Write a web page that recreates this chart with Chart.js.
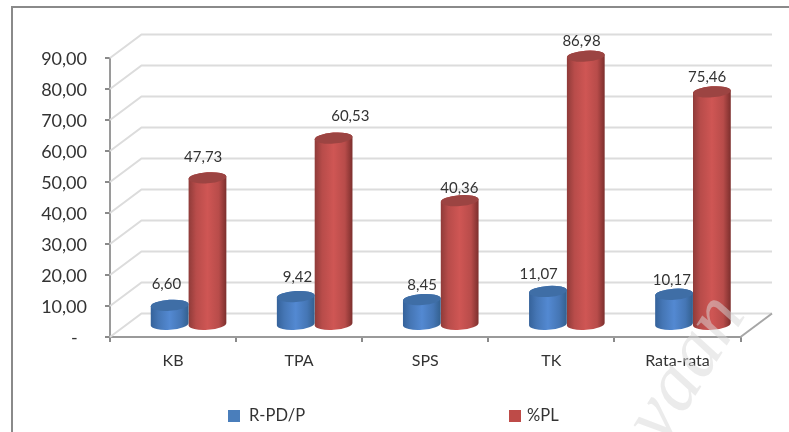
<!DOCTYPE html>
<html>
<head>
<meta charset="utf-8">
<script src="https://cdn.jsdelivr.net/npm/chart.js@4/dist/chart.umd.min.js"></script>
<style>html,body{margin:0;padding:0;background:#fff}canvas{display:block}</style>
</head>
<body>
<canvas id="c" width="789" height="432"></canvas>
<script>
const categories = ["KB", "TPA", "SPS", "TK", "Rata-rata"];
const seriesNames = ["R-PD/P", "%PL"];
const rpdp = [6.60, 9.42, 8.45, 11.07, 10.17];
const pl = [47.73, 60.53, 40.36, 86.98, 75.46];
const legendColors = ["#4a7ebb", "#be4b48"];
const shades = [
  {edgeL:"#35629a", soft:"#4576b5", mid:"#5389d2", edgeR:"#33608f", cap:"#3f6ea6"},
  {edgeL:"#8f3b39", soft:"#b84c4a", mid:"#cf5654", edgeR:"#7c2f2d", cap:"#9c4442"}
];
const depthX = 31.5, depthY = 23.5;
const barShiftX = 15.5;
const capRy = 5.5;
const labelNudge = [
  [[-3.5,-21],[1.5,-19],[0,-14],[-9.5,-17],[-2.5,-14]],
  [[-4.5,-20],[16.5,-21],[-0.5,-12],[-4.5,-14.5],[-5,-14.5]]
];
const fmt = v => v.toFixed(2).replace(".", ",");
const textColor = "#333333";
const fontFamily = "Lato, 'Open Sans', sans-serif";

const scene = {
  id: "scene",
  beforeDatasetsDraw(chart) {
    const {ctx, scales:{x, y}, chartArea:a} = chart;
    ctx.save();
    ctx.strokeStyle = "#8a8a8a"; ctx.lineWidth = 2;
    ctx.beginPath(); ctx.moveTo(12, 432); ctx.lineTo(12, 7); ctx.lineTo(789, 7); ctx.stroke();
    ctx.strokeStyle = "#dcdcdc"; ctx.lineWidth = 2;
    y.ticks.forEach(t => {
      const py = y.getPixelForValue(t.value);
      ctx.beginPath();
      ctx.moveTo(a.left, py);
      ctx.lineTo(a.left + depthX, py - depthY);
      ctx.lineTo(a.right + depthX, py - depthY);
      ctx.stroke();
    });
    ctx.strokeStyle = "#a6a6a6"; ctx.lineWidth = 2;
    ctx.beginPath();
    ctx.moveTo(a.right, a.bottom);
    ctx.lineTo(a.right + depthX, a.bottom - depthY);
    ctx.stroke();
    ctx.restore();
  },
  beforeDatasetDraw(chart, args) {
    const {ctx} = chart;
    const meta = chart.getDatasetMeta(args.index);
    const s = shades[args.index];
    meta.data.forEach(el => {
      const p = el.getProps(["x","y","base","width"], true);
      const cx = p.x + barShiftX, rx = p.width/2;
      const top = p.y - depthY/2 + 0.5, bot = p.base - depthY/2;
      const tilt = -0.07;
      const g = ctx.createLinearGradient(cx-rx, 0, cx+rx, 0);
      g.addColorStop(0, s.edgeL);
      g.addColorStop(0.2, s.soft);
      g.addColorStop(0.5, s.mid);
      g.addColorStop(0.8, s.soft);
      g.addColorStop(1, s.edgeR);
      ctx.save();
      ctx.fillStyle = g;
      ctx.beginPath();
      ctx.ellipse(cx, bot, rx, capRy, tilt, Math.PI, 0, true);
      ctx.lineTo(cx+rx, top);
      ctx.ellipse(cx, top, rx, capRy, tilt, 0, Math.PI, true);
      ctx.closePath();
      ctx.fill();
      ctx.fillStyle = s.cap;
      ctx.beginPath();
      ctx.ellipse(cx, top, rx, capRy, tilt, 0, Math.PI*2);
      ctx.fill();
      ctx.restore();
    });
    return false;
  },
  afterDatasetsDraw(chart) {
    const {ctx} = chart;
    ctx.save();
    ctx.fillStyle = textColor;
    ctx.font = "15px " + fontFamily;
    ctx.textAlign = "center"; ctx.textBaseline = "middle";
    chart.data.datasets.forEach((ds, di) => {
      chart.getDatasetMeta(di).data.forEach((el, i) => {
        const p = el.getProps(["x","y"], true);
        const n = labelNudge[di][i];
        ctx.fillText(fmt(ds.data[i]), p.x + depthX/2 + n[0], p.y - depthY/2 + n[1]);
      });
    });
    const swatchX = [228, 509], textX = [249, 527];
    ctx.textAlign = "left";
    ctx.font = "16.5px " + fontFamily;
    chart.data.datasets.forEach((ds, di) => {
      ctx.fillStyle = legendColors[di];
      ctx.fillRect(swatchX[di], 410, 12, 12);
      ctx.fillStyle = textColor;
      ctx.fillText(ds.label, textX[di], 416);
    });
    ctx.translate(664, 446);
    ctx.rotate(-58 * Math.PI/180);
    ctx.font = "italic 80px 'Liberation Serif', serif";
    ctx.fillStyle = "rgba(215,215,215,0.5)";
    ctx.textAlign = "left";
    ctx.textBaseline = "alphabetic";
    ctx.fillText("vaan", 0, 0);
    ctx.restore();
  }
};

new Chart(document.getElementById("c"), {
  type: "bar",
  data: {
    labels: categories,
    datasets: [
      {label: seriesNames[0], data: rpdp, backgroundColor: legendColors[0]},
      {label: seriesNames[1], data: pl, backgroundColor: legendColors[1]}
    ]
  },
  plugins: [scene],
  options: {
    responsive: false,
    animation: false,
    layout: {padding: {left: 0, right: 48.5, top: 58, bottom: 0}},
    datasets: {bar: {categoryPercentage: 0.6, barPercentage: 1}},
    plugins: {legend: {display: false}, tooltip: {enabled: false}},
    scales: {
      x: {
        afterFit(s) { s.height = 95; },
        grid: {drawOnChartArea: false, tickLength: 5, color: "#8a8a8a", lineWidth: 2, offset: true},
        border: {color: "#9a9a9a", width: 2},
        ticks: {color: textColor, font: {family: fontFamily, size: 16}, padding: 9, maxRotation: 0}
      },
      y: {
        min: 0, max: 90,
        afterFit(s) { s.width = 110; },
        grid: {drawOnChartArea: false, tickLength: 5, color: "#8a8a8a", lineWidth: 2},
        border: {color: "#9a9a9a", width: 2},
        ticks: {
          stepSize: 10, color: textColor, padding: 18, labelOffset: 1.5,
          font: {family: fontFamily, size: 18},
          callback: v => v === 0 ? "-\u00a0\u00a0" : fmt(v)
        }
      }
    }
  }
});
</script>
</body>
</html>
